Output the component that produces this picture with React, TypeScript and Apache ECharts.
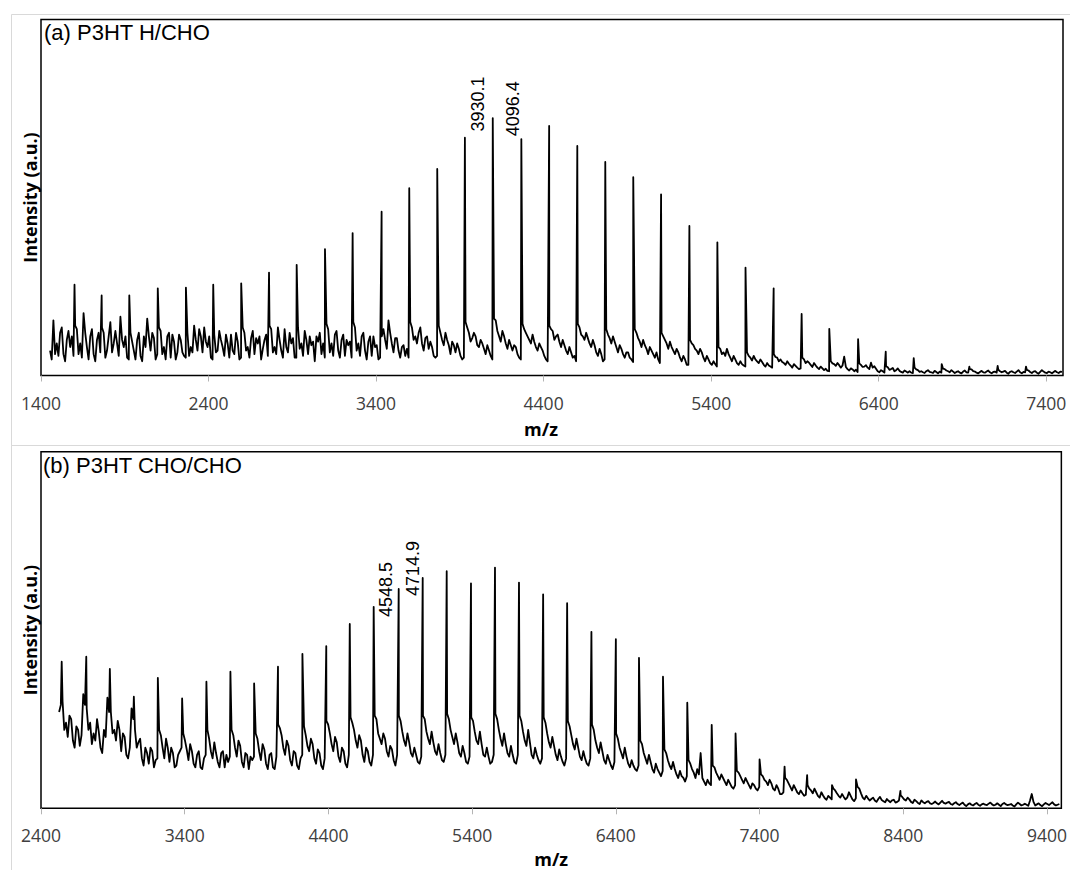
import { useEffect, useRef } from 'react';
import * as echarts from 'echarts';

// ---------- Panel (a): P3HT H/CHO ----------
const titleA = '(a) P3HT H/CHO';
const rangeA = [1400, 7500];
const tickLabelsA = [1400, 2400, 3400, 4400, 5400, 6400, 7400];
// apex positions (m/z) and heights (% of full scale) of the oligomer peaks
const peakMzA = [1600, 1762, 1927, 2097, 2265, 2428, 2595, 2761, 2926, 3095, 3260, 3433, 3598, 3765, 3930.1, 4096.4, 4267, 4433, 4601, 4768, 4935, 5101, 5270, 5437, 5605, 5773, 5940, 6105, 6277, 6442, 6609, 6776, 6941, 7110, 7279];
const peakIntA = [25.5, 22.5, 22.5, 24.5, 24.7, 25.5, 25.9, 28.9, 31.1, 35.5, 40.0, 46.0, 52.6, 58.0, 66.8, 72.3, 66.4, 70.1, 64.5, 60.0, 55.7, 50.9, 42.0, 37.4, 30.3, 24.5, 17.3, 13.1, 10.2, 6.7, 4.9, 3.2, 2.5, 2.7, 2.5];
// baseline / noise trace, even samples: every 20 m/z from 1454
const baseStartA = 1454;
const baseStepA = 20;
const baseIntA = [
  7, 15.5, 9, 12, 6, 10, 8, 5.5, 13, 9,
  17.5, 8, 11, 6, 10, 6.5, 12, 7, 15, 9,
  9, 16.5, 8, 5, 12, 7, 10, 5.5, 11, 16,
  7, 10.5, 6, 12.5, 8, 11, 5, 9.5, 6.5, 10,
  5.5, 12, 8, 14, 7, 11, 13.5, 8, 5, 11.5,
  7, 10, 5.5, 9, 11.5, 6, 9.5, 5, 12, 8,
  10.5, 6, 9, 4.5, 10, 5.5, 13, 8, 13.5, 7,
  13, 6.5, 9, 5, 13.5, 9, 12.5, 6, 8.5, 4,
  9.5, 6, 5, 13, 9, 11.5, 7, 10, 5.5, 8.5,
  5, 13.5, 9, 11, 7, 9.5, 5.5, 8, 4.5, 11,
  10, 15.5, 9, 10.5, 7, 8, 5.5, 5, 13.5, 11,
  12, 9, 10.5, 7.5, 8, 5, 14, 10, 12, 8.5,
  9.5, 6.5, 7.5, 4.5, 15, 12, 10.5, 11, 8, 9,
  6, 7, 4.5, 15.5, 11, 12.5, 9, 10, 7, 8,
  5, 14.5, 12, 10, 11.5, 8, 9, 7, 4.5, 14,
  12.5, 11, 9.5, 10, 7, 8, 5, 4, 13.5, 11,
  12, 9, 10, 6.5, 7.5, 4, 13, 10.5, 11, 8,
  8.5, 6, 6.5, 5, 3.8, 12, 9.5, 10, 7.5, 8,
  6, 6.5, 3.5, 11, 9, 9.5, 7, 7.5, 5, 5.5,
  3, 10, 8.5, 7, 7.5, 5, 5.5, 3.5, 4, 2.5,
  7.5, 6.5, 7.5, 5, 5.5, 3.5, 4, 2.8, 6.5, 5,
  5.5, 4, 4.5, 3, 3.5, 2.5, 6, 5, 4.5, 3.5,
  4, 2.8, 3.2, 2.2, 2, 4.5, 4, 3, 3.5, 2.2,
  2.5, 1.5, 1.3, 4, 3.2, 3.5, 2.2, 5.3, 1.8, 2,
  1.2, 1.0, 3, 2.5, 2.2, 3.6, 2.6, 1.2, 1.5, 0.8,
  2.3, 1.8, 1.2, 2, 1, 1.4, 0.8, 0.8, 2.2, 1.5,
  1.2, 0.7, 1.5, 0.9, 1.3, 0.6, 0.8, 1.8, 1.2, 1.5,
  0.7, 1.2, 0.6, 1.4, 0.8, 1.7, 1.1, 0.6, 1.3, 0.8,
  1.4, 0.6, 1.1, 1.6, 0.9, 1.3, 0.5, 1.2, 0.7, 1.5,
  0.6, 0.9, 1.4, 0.7, 1.2, 0.5, 1.5, 0.8, 1.1, 0.6,
  1.3, 0.7, 1.0,
];
// odd samples of the same trace: every 20 m/z from 1464
const oddStartA = 1464;
const oddIntA = [
  4.5, 6, 5.5, 13.5, 4, 12.5, 11, 14, 6, 5,
  12, 4.5, 13, 4, 12, 13.5, 5, 11, 6.5, 12.5,
  5.5, 10, 11, 4.5, 9.5, 4.5, 12, 4, 8, 11,
  12, 4.5, 13.5, 6, 4.5, 12, 11.5, 4.5, 11.5, 6.5,
  5, 5.5, 6.5, 10, 13, 6.5, 9.5, 11, 4.5, 6.5,
  12.5, 8, 11.5, 5, 7, 12, 4.5, 13.5, 7, 5,
  12.5, 10.5, 11, 7.5, 11.5, 14, 6.5, 6, 10, 5,
  8, 12, 10.5, 5, 7.5, 5.5, 10, 11, 9.5, 11,
  12, 9, 14.5, 6.5, 5.5, 12.5, 5, 11.5, 10, 9.5,
  15, 7, 5.5, 12, 4.5, 11, 11, 8.5, 5, 13,
  7.5, 12, 6.5, 10.5, 5, 8.5, 7.5, 15, 10, 9,
  13.5, 7, 11, 9.5, 5.5, 5.5, 12, 8.5, 10, 6,
  8.5, 9, 5.5, 5, 13.5, 9.5, 12, 8.5, 10, 7.5,
  8.5, 5.5, 16, 12.5, 9.5, 11, 7.5, 8.5, 8.5, 6,
  4.5, 13, 11, 9, 9.5, 7, 8, 5.5, 4, 13,
  10, 11.5, 8, 8.5, 6, 6.5, 5.5, 14.5, 11.5, 10,
  10.5, 8, 8.5, 5.5, 6, 4.5, 11.5, 9, 9.5, 6.5,
  7.5, 5, 6.5, 4.5, 13, 10.5, 8, 8.5, 6, 7,
  5, 4.5, 12, 10, 7.5, 8, 6, 6.5, 4, 4.5,
  3, 9, 7.5, 6, 6.5, 4, 4.5, 3, 3.2, 8,
  6, 5.5, 6, 4, 4.5, 3, 3.2, 2.5, 5.5, 4.2,
  4.5, 3.5, 3.8, 2.5, 2.8, 2.2, 5.2, 4, 3.8, 3,
  3.3, 2.2, 2.7, 1.8, 5, 3.5, 3.6, 2.4, 2.8, 1.8,
  2, 1.9, 1.2, 3.4, 2.7, 2.9, 2.8, 2.4, 1.4, 1.7,
  1.6, 3.4, 2.4, 2.9, 1.8, 2.2, 1.9, 0.9, 1.2, 2.6,
  1.6, 2.1, 1.5, 1.3, 0.8, 1.1, 1.2, 0.7, 1.7, 1.0,
  0.9, 1.2, 1.0, 0.7, 1.0, 1.1, 1.9, 1.4, 0.9, 1.1,
  1.0, 0.8, 1.1, 0.9, 1.8, 1.2, 0.8, 1.0, 0.9, 1.1,
  0.9, 1.0, 0.8, 1.2, 1.1, 0.8, 1.0, 0.9, 1.1, 0.9,
  1.0, 1.6, 1.0, 1.1, 0.8, 1.0, 1.1, 0.7, 0.9, 1.0,
  0.9, 1.1,
];
const labelledA = [3930.1, 4096.4];

// ---------- Panel (b): P3HT CHO/CHO ----------
const titleB = '(b) P3HT CHO/CHO';
const rangeB = [2400, 9500];
const tickLabelsB = [2400, 3400, 4400, 5400, 6400, 7400, 8400, 9400];
const peakMzB = [2544, 2715, 2879, 3046, 3213, 3382, 3551, 3718, 3883, 4049, 4219, 4385, 4548.5, 4714.9, 4889, 5056, 5223, 5392, 5559, 5726, 5894, 6061, 6230, 6400, 6561, 6728, 6897, 7067, 7233, 7400, 7574, 7731, 7904, 8071, 8380];
const peakIntB = [41.1, 42.5, 39.1, 31.3, 36.6, 30.8, 35.5, 38.3, 35.0, 39.7, 43.3, 45.5, 51.7, 56.5, 61.5, 64.6, 66.5, 63.1, 67.5, 63.3, 60.0, 57.5, 49.5, 47.4, 42.2, 36.9, 29.6, 23.4, 21.0, 13.7, 11.7, 9.3, 6.5, 8.1, 4.9];
// baseline / noise trace, even samples: every 24 m/z from 2526
const baseStartB = 2526;
const baseStepB = 24;
const baseIntB = [
  27, 30, 24, 26, 19, 23, 17.5, 32, 28, 24,
  21, 25, 17, 22, 31, 27, 22, 24.5, 16, 20,
  14, 28, 22, 18.5, 14, 17, 12.5, 16, 13.5, 22,
  17, 19.5, 13, 15.5, 12, 16, 21, 16.5, 18, 12.5,
  15, 11.5, 14, 22, 16, 18.5, 13, 15.5, 11.5, 13,
  22, 17, 19, 13, 15.5, 11, 13.5, 21, 16, 18,
  12.5, 15, 11.5, 14.5, 22.5, 17, 19, 13.5, 16, 12,
  14, 23, 17.5, 19.5, 14, 16.5, 12, 14, 23.5, 18,
  20, 14.5, 17, 12.5, 15, 24, 19, 20.5, 15, 17,
  13, 15, 25, 19.5, 21, 16, 17.5, 13.5, 15, 24.5,
  19, 21, 15.5, 17, 13, 14.5, 25, 19.5, 21.5, 16,
  18, 13.5, 15, 25, 20, 21, 15.5, 17.5, 13, 14.5,
  24.5, 19, 21.5, 15, 17, 12.5, 15, 25, 19.5, 21,
  15.5, 17.5, 13, 15, 24.5, 19, 22, 15, 17, 13.5,
  14, 24, 18.5, 20, 15, 16.5, 13, 14, 23, 18,
  19.5, 14.5, 16, 12.5, 14, 22, 17, 18.5, 13.5, 15,
  12, 13, 19.5, 15.5, 17, 12.5, 13.5, 11, 12, 18,
  14, 15, 11, 12.5, 10, 10.5, 15.5, 12, 13, 9.5,
  10.5, 8.5, 9, 12.5, 10, 11, 15.5, 7.5, 8, 6.5,
  11.5, 9, 9.5, 7.5, 8, 6, 6.5, 10, 8, 8.5,
  6.5, 7, 5.5, 6, 9, 7.5, 8, 5.5, 6.5, 4,
  4.5, 8, 6, 6.5, 4.5, 5, 3.5, 6.5, 5, 5.5,
  3.5, 4.5, 2.8, 3.5, 2.5, 5, 3.5, 4, 2.5, 4.5,
  2.5, 2.8, 5.5, 3, 3.5, 2.2, 3, 1.8, 3.2, 2,
  2.6, 1.7, 2.4, 1.8, 3.6, 2.5, 3, 1.8, 2.4, 1.5,
  2.2, 1.4, 2, 1.2, 1.9, 1.1, 2.1, 1.3, 1.8, 1.0,
  1.7, 0.9, 1.6, 0.6, 1.4, 0.8, 1.5, 0.7, 1.3, 0.9,
  1.6, 0.8, 1.4, 0.6, 1.5, 0.9, 1.2, 0.5, 1.6, 0.8,
  1.3, 0.7, 4.0, 0.8, 1.4, 0.6, 1.5, 0.9, 1.7, 0.8,
  1.2,
];
// odd samples of the same trace: every 24 m/z from 2538
const oddStartB = 2538;
const oddIntB = [
  29, 22, 20, 25, 17, 22, 20.5, 29, 22, 18,
  19, 21.5, 15.5, 20, 27, 21, 19, 22, 21, 15,
  17, 25, 17, 19.5, 12, 15.5, 17, 11.5, 14, 20.5,
  14, 17, 17, 11.5, 15, 17, 19, 13.5, 16, 11.5,
  16, 11, 15, 19.5, 14, 15.5, 11.5, 16, 15, 14.5,
  20.5, 14.5, 17.5, 11.5, 15, 14.5, 14.5, 19.5, 13.5, 16.5,
  11, 15.5, 11, 23.5, 20.5, 15, 17.5, 12, 15.5, 11,
  15, 20.5, 16, 18, 12.5, 15.5, 11, 24.5, 21, 16,
  18.5, 13, 16, 11.5, 25.5, 22, 17, 19, 13, 16,
  12, 26, 21, 18, 19.5, 14.5, 16.5, 12, 26, 21.5,
  17.5, 18.5, 14.5, 15, 12.5, 26, 21.5, 18, 18.5, 15,
  15.5, 13, 26.5, 22, 18, 18.5, 14.5, 15.5, 12.5, 25.5,
  21.5, 18, 18, 14.5, 14.5, 13, 26.5, 22, 17.5, 18,
  14.5, 15, 12.5, 26, 21.5, 17.5, 18.5, 14, 15, 12.5,
  25.5, 21, 17, 17.5, 13.5, 14.5, 12, 24.5, 20.5, 16.5,
  17, 13.5, 14, 12, 23.5, 19, 15.5, 16, 12.5, 13.5,
  11, 21, 17, 14, 14.5, 11.5, 12, 10.5, 19, 15.5,
  12.5, 13, 10, 11, 9, 16.5, 13.5, 11, 11, 8.5,
  9, 7.5, 13.5, 11, 8.5, 9.5, 8.5, 6.5, 7, 12,
  10, 8, 8.5, 6.5, 7, 5.5, 10.5, 9, 7, 7.5,
  5.5, 6.5, 5, 9.5, 8, 6.5, 7, 5, 5.5, 4,
  8.5, 7, 5, 5.5, 4, 4.2, 3.8, 5.5, 4.2, 4.5,
  3, 3.6, 2.4, 3, 5.5, 4.2, 3, 3.2, 3, 3.5,
  2, 6, 4.2, 2.5, 2.8, 2.6, 2.2, 2.6, 2.3, 1.7,
  2.1, 2.2, 1.6, 2.2, 3.1, 2.2, 2.5, 1.5, 2, 1.2,
  1.7, 1.8, 1.4, 1.5, 1.4, 1.6, 1.5, 1.6, 1.2, 1.4,
  1.2, 1.3, 1.0, 1.1, 1.0, 1.2, 1.0, 1.1, 1.0, 1.3,
  1.1, 1.0, 1.0, 1.2, 1.1, 1.0, 0.8, 1.1, 1.2, 1.0,
  1.0, 2.2, 1.8, 1.1, 0.9, 1.1, 1.2, 1.3, 1.1, 1.0,
];
const labelledB = [4548.5, 4714.9];

const intensityRange = [0, 100];

// merge the sampled traces with the peak apices into one m/z-ordered series
function buildSpectrum(traces: [number, number, number[]][], mz: number[], heights: number[]) {
  const pts: number[][] = [];
  traces.forEach(([start, step, vals]) => vals.forEach((v, i) => pts.push([start + i * step, v])));
  mz.forEach((m, k) => pts.push([m, heights[k]]));
  return pts.sort((p, q) => p[0] - q[0]);
}

const tickFont = '"Open Sans", "DejaVu Sans", sans-serif';
const arialFont = '"Liberation Sans", Arial, sans-serif';

function makeXAxis(gridIndex: number, range: number[], ticks: number[], nameGap: number, namePad: number[]) {
  return {
    type: 'value',
    gridIndex,
    min: range[0],
    max: range[1],
    axisLine: { show: false },
    axisTick: { show: true, length: 6, customValues: ticks, lineStyle: { color: '#b4b4b4', width: 1 } },
    axisLabel: {
      show: true,
      customValues: ticks,
      margin: 18,
      fontFamily: tickFont,
      fontSize: 17.5,
      color: '#404040',
      formatter: (v: number) => String(v),
    },
    splitLine: { show: false },
    name: 'm/z',
    nameLocation: 'middle',
    nameGap,
    nameTextStyle: { fontFamily: tickFont, fontSize: 18, fontWeight: 'bold', color: '#000', padding: namePad },
  };
}

function makeYAxis(gridIndex: number) {
  return {
    type: 'value',
    gridIndex,
    min: intensityRange[0],
    max: intensityRange[1],
    axisLine: { show: false },
    axisTick: { show: false },
    axisLabel: { show: false },
    splitLine: { show: false },
    name: 'Intensity (a.u.)',
    nameLocation: 'middle',
    nameRotate: 90,
    nameGap: 2,
    nameTextStyle: { fontFamily: tickFont, fontSize: 18, fontWeight: 'bold', color: '#000' },
  };
}

function makeSeries(index: number, data: number[][]) {
  return {
    type: 'line',
    xAxisIndex: index,
    yAxisIndex: index,
    data,
    symbol: 'none',
    silent: true,
    clip: true,
    lineStyle: { color: '#000', width: 1.8, join: 'round' },
  };
}

export default function App() {
  const ref = useRef<HTMLDivElement>(null);

  useEffect(() => {
    const el = ref.current;
    if (!el) return;
    const chart = echarts.init(el, null, { renderer: 'svg' });

    const specA = buildSpectrum(
      [[baseStartA, baseStepA, baseIntA], [oddStartA, baseStepA, oddIntA]],
      peakMzA,
      peakIntA,
    );
    const specB = buildSpectrum(
      [[baseStartB, baseStepB, baseIntB], [oddStartB, baseStepB, oddIntB]],
      peakMzB,
      peakIntB,
    );

    chart.setOption({
      animation: false,
      backgroundColor: '#ffffff',
      grid: [
        { left: 41, top: 19.5, width: 1022, height: 356, show: true, borderColor: '#000', borderWidth: 1.5, backgroundColor: 'transparent' },
        { left: 41, top: 451.7, width: 1022, height: 356.6, show: true, borderColor: '#000', borderWidth: 1.5, backgroundColor: 'transparent' },
      ],
      xAxis: [
        makeXAxis(0, rangeA, tickLabelsA, 44, [0, 22, 0, 0]),
        makeXAxis(1, rangeB, tickLabelsB, 42, [0, 0, 0, 0]),
      ],
      yAxis: [makeYAxis(0), makeYAxis(1)],
      series: [makeSeries(0, specA), makeSeries(1, specB)],
    });

    // rotated m/z annotations next to the labelled peaks
    const annotate = (gridIndex: number, mzList: number[], mzAll: number[], heights: number[], offsets: number[][]) =>
      mzList.map((mz, k) => {
        const h = heights[mzAll.indexOf(mz)];
        const p = chart.convertToPixel({ gridIndex }, [mz, h]) as number[];
        return {
          type: 'text',
          x: p[0] + offsets[k][0],
          y: p[1] + offsets[k][1],
          rotation: Math.PI / 2,
          silent: true,
          style: {
            text: mz.toFixed(1),
            fontFamily: arialFont,
            fontSize: 18,
            fill: '#000',
            align: 'left',
            verticalAlign: 'middle',
          },
        };
      });

    const graphics: any[] = [
      { type: 'rect', silent: true, shape: { x: 11.5, y: 14.5, width: 1070, height: 431 }, style: { fill: 'none', stroke: '#d9d9d9', lineWidth: 1 } },
      { type: 'rect', silent: true, shape: { x: 11.5, y: 445.5, width: 1070, height: 440 }, style: { fill: 'none', stroke: '#d9d9d9', lineWidth: 1 } },
      { type: 'text', x: 44, y: 32, silent: true, style: { text: titleA, fontFamily: arialFont, fontSize: 22, fill: '#000', align: 'left', verticalAlign: 'middle' } },
      { type: 'text', x: 43, y: 465.5, silent: true, style: { text: titleB, fontFamily: arialFont, fontSize: 22, fill: '#000', align: 'left', verticalAlign: 'middle' } },
      ...annotate(0, labelledA, peakMzA, peakIntA, [[13.3, -6.2], [20.7, 18.2]]),
      ...annotate(1, labelledB, peakMzB, peakIntB, [[36.6, -7], [39, -10.7]]),
    ];
    chart.setOption({ graphic: graphics });

    return () => chart.dispose();
  }, []);

  return <div ref={ref} style={{ position: 'absolute', left: 0, top: 0, width: 1070, height: 870 }} />;
}
